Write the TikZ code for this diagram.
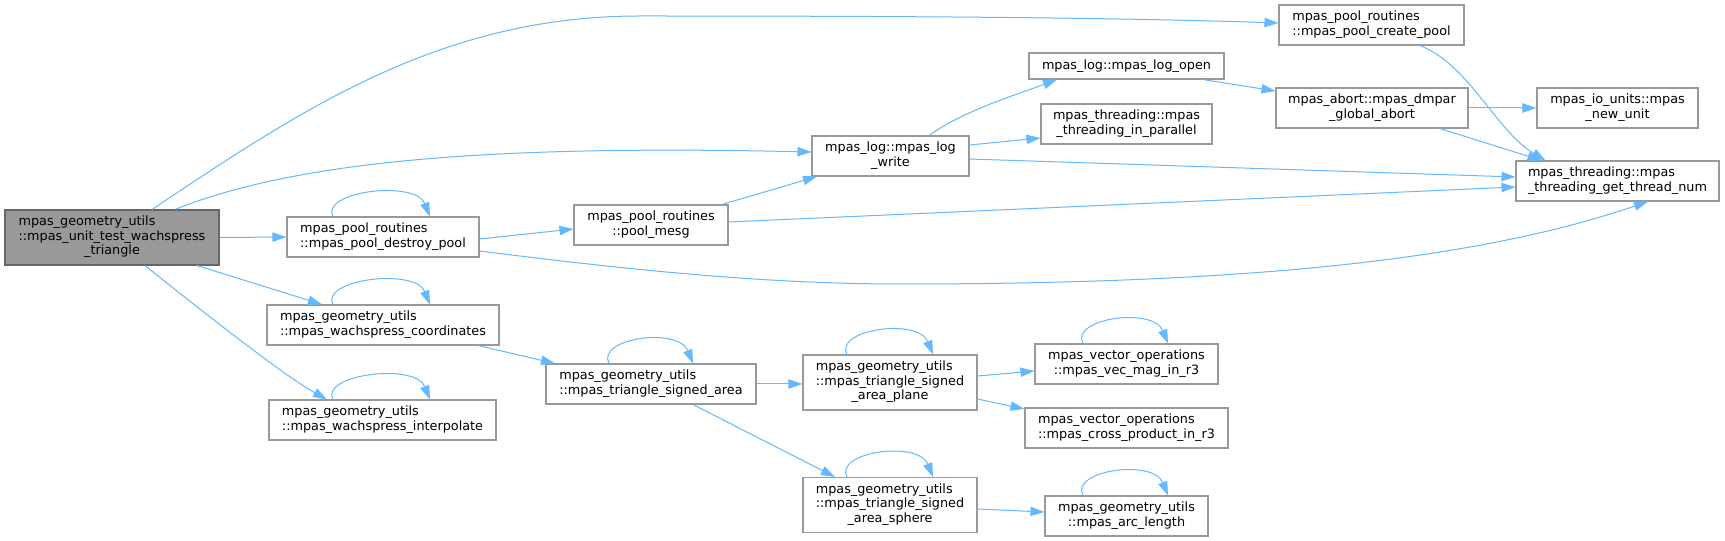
\documentclass[tikz,border=0pt]{standalone}
\usepackage{fontspec}
\setmainfont{DejaVu Sans}
\usetikzlibrary{arrows.meta}
\definecolor{edgeblue}{HTML}{63B8FF}
\definecolor{boxline}{HTML}{999999}
\definecolor{rootfill}{HTML}{999999}
\definecolor{rootline}{HTML}{666666}
% last line centred, the lines above flush left
\newcommand{\fnlabel}[2]{\begin{tabular}{@{}l@{}}#1\\\multicolumn{1}{@{}c@{}}{#2}\end{tabular}}
\newcommand{\selfloop}[3]{\draw[edge] ([shift={(#2,0)}]#1.north) .. controls +(-13,-25) and +(-15,-37) .. ([shift={(#3,0)}]#1.north);}
\tikzset{
  fn/.style={draw=boxline, fill=white, line width=0.8pt, inner sep=0pt,
    font=\fontsize{9.6}{10.9}\selectfont},
  root/.style={fn, draw=rootline, fill=rootfill},
  boxw/.style={minimum width={#1*0.75pt}},
  one/.style={minimum height=19.5pt},
  two/.style={minimum height=30pt},
  three/.style={minimum height=41.25pt},
  edge/.style={draw=edgeblue, line width=0.75pt, -{Triangle[length=10.5pt,width=7pt]}, fill=none}
}
\begin{document}
\begin{tikzpicture}[x=0.75pt,y=-0.75pt]
  \path[use as bounding box, fill=white] (0,0) rectangle (1725,541);
  % nodes
  \node[root,three,boxw=214] (main) at (112,237.5) {\fnlabel{mpas\_geometry\_utils\\::mpas\_unit\_test\_wachspress}{\_triangle}};
  \node[fn,two,boxw=192] (destroy) at (383,237) {\fnlabel{mpas\_pool\_routines}{::mpas\_pool\_destroy\_pool}};
  \node[fn,two,boxw=232] (coords) at (383,325) {\fnlabel{mpas\_geometry\_utils}{::mpas\_wachspress\_coordinates}};
  \node[fn,two,boxw=227] (interp) at (382.5,420) {\fnlabel{mpas\_geometry\_utils}{::mpas\_wachspress\_interpolate}};
  \node[fn,two,boxw=154] (poolmesg) at (651,225) {\fnlabel{mpas\_pool\_routines}{::pool\_mesg}};
  \node[fn,two,boxw=210] (signed) at (651,384) {\fnlabel{mpas\_geometry\_utils}{::mpas\_triangle\_signed\_area}};
  \node[fn,two,boxw=157] (logwrite) at (890.5,156) {\fnlabel{mpas\_log::mpas\_log}{\_write}};
  \node[fn,three,boxw=174] (plane) at (890,382.5) {\fnlabel{mpas\_geometry\_utils\\::mpas\_triangle\_signed}{\_area\_plane}};
  \node[fn,three,boxw=174] (sphere) at (890,505) {\fnlabel{mpas\_geometry\_utils\\::mpas\_triangle\_signed}{\_area\_sphere}};
  \node[fn,one,boxw=195] (logopen) at (1126.5,66) {mpas\_log::mpas\_log\_open};
  \node[fn,two,boxw=171] (parallel) at (1126.5,124) {\fnlabel{mpas\_threading::mpas}{\_threading\_in\_parallel}};
  \node[fn,two,boxw=183] (vecmag) at (1126.5,364) {\fnlabel{mpas\_vector\_operations}{::mpas\_vec\_mag\_in\_r3}};
  \node[fn,two,boxw=203] (cross) at (1126.5,428) {\fnlabel{mpas\_vector\_operations}{::mpas\_cross\_product\_in\_r3}};
  \node[fn,two,boxw=163] (arclen) at (1126.5,516) {\fnlabel{mpas\_geometry\_utils}{::mpas\_arc\_length}};
  \node[fn,two,boxw=185] (createpool) at (1371.5,25) {\fnlabel{mpas\_pool\_routines}{::mpas\_pool\_create\_pool}};
  \node[fn,two,boxw=192] (dmpar) at (1372,108) {\fnlabel{mpas\_abort::mpas\_dmpar}{\_global\_abort}};
  \node[fn,two,boxw=161] (newunit) at (1617.5,108) {\fnlabel{mpas\_io\_units::mpas}{\_new\_unit}};
  \node[fn,two,boxw=203] (threadnum) at (1617.5,181) {\fnlabel{mpas\_threading::mpas}{\_threading\_get\_thread\_num}};
  \coordinate (topbend) at (640,16);
  \coordinate (lowbend) at (900,284);
  % calls from the root
  \draw[edge] ([shift={(40,0)}]main.north) .. controls +(150,-100) and +(-200,0) .. (topbend)
    .. controls +(300,0) and +(-150,-5) .. ([shift={(0,-2)}]createpool.west);
  \draw[edge] ([shift={(63,0)}]main.north) .. controls +(125,-50) and +(-312,-7) .. ([shift={(0,-4)}]logwrite.west);
  \draw[edge] (main.east) -- (destroy.west);
  \draw[edge] ([shift={(85,0)}]main.south) -- ([shift={(-61,0)}]coords.north);
  \draw[edge] ([shift={(33,0)}]main.south) .. controls +(50,40) and +(-45,-25) .. ([shift={(-55.5,0)}]interp.north);
  % second column
  \selfloop{destroy}{-50}{47}
  \selfloop{coords}{-50}{47}
  \selfloop{interp}{-49.5}{47.5}
  \draw[edge] ([shift={(0,2)}]destroy.east) -- ([shift={(0,4)}]poolmesg.west);
  \draw[edge] ([shift={(0,14)}]destroy.east) .. controls +(120,15) and +(-150,0) .. (lowbend)
    .. controls +(350,0) and +(-170,58) .. ([shift={(30.5,0)}]threadnum.south);
  \draw[edge] ([shift={(95,0)}]coords.south) -- ([shift={(-96,0)}]signed.north);
  % third column
  \draw[edge] ([shift={(71,0)}]poolmesg.north) -- ([shift={(-73.5,0)}]logwrite.south);
  \draw[edge] ([shift={(0,-3)}]poolmesg.east) -- ([shift={(0,6)}]threadnum.west);
  \selfloop{signed}{-42}{42}
  \draw[edge] (signed.east) -- (signed.east -| plane.west);
  \draw[edge] ([shift={(42,0)}]signed.south) -- ([shift={(-55,0)}]sphere.north);
  % fourth column
  \draw[edge] ([shift={(38.5,0)}]logwrite.north) .. controls +(35,-25) and +(-40,15) .. ([shift={(-69.5,0)}]logopen.south);
  \draw[edge] ([shift={(0,-11)}]logwrite.east) -- ([shift={(0,14)}]parallel.west);
  \draw[edge] ([shift={(0,3)}]logwrite.east) -- ([shift={(0,-4)}]threadnum.west);
  \selfloop{plane}{-43}{43}
  \selfloop{sphere}{-43}{43}
  \draw[edge] ([shift={(0,-6.5)}]plane.east) -- ([shift={(0,7)}]vecmag.west);
  \draw[edge] ([shift={(0,16.5)}]plane.east) -- ([shift={(0,-19)}]cross.west);
  \draw[edge] ([shift={(0,4)}]sphere.east) -- ([shift={(0,-4)}]arclen.west);
  % fifth column and beyond
  \draw[edge] ([shift={(76.5,0)}]logopen.south) -- ([shift={(0,-17)}]dmpar.west);
  \selfloop{vecmag}{-43.5}{41.5}
  \selfloop{arclen}{-43.5}{41.5}
  \draw[edge] (dmpar.east) -- (newunit.west);
  \draw[edge] ([shift={(68,0)}]dmpar.south) -- ([shift={(-76,0)}]threadnum.north);
  \draw[edge] ([shift={(48.5,0)}]createpool.south) .. controls +(50,20) and +(-50,-30) .. ([shift={(-72,0)}]threadnum.north);
\end{tikzpicture}
\end{document}
